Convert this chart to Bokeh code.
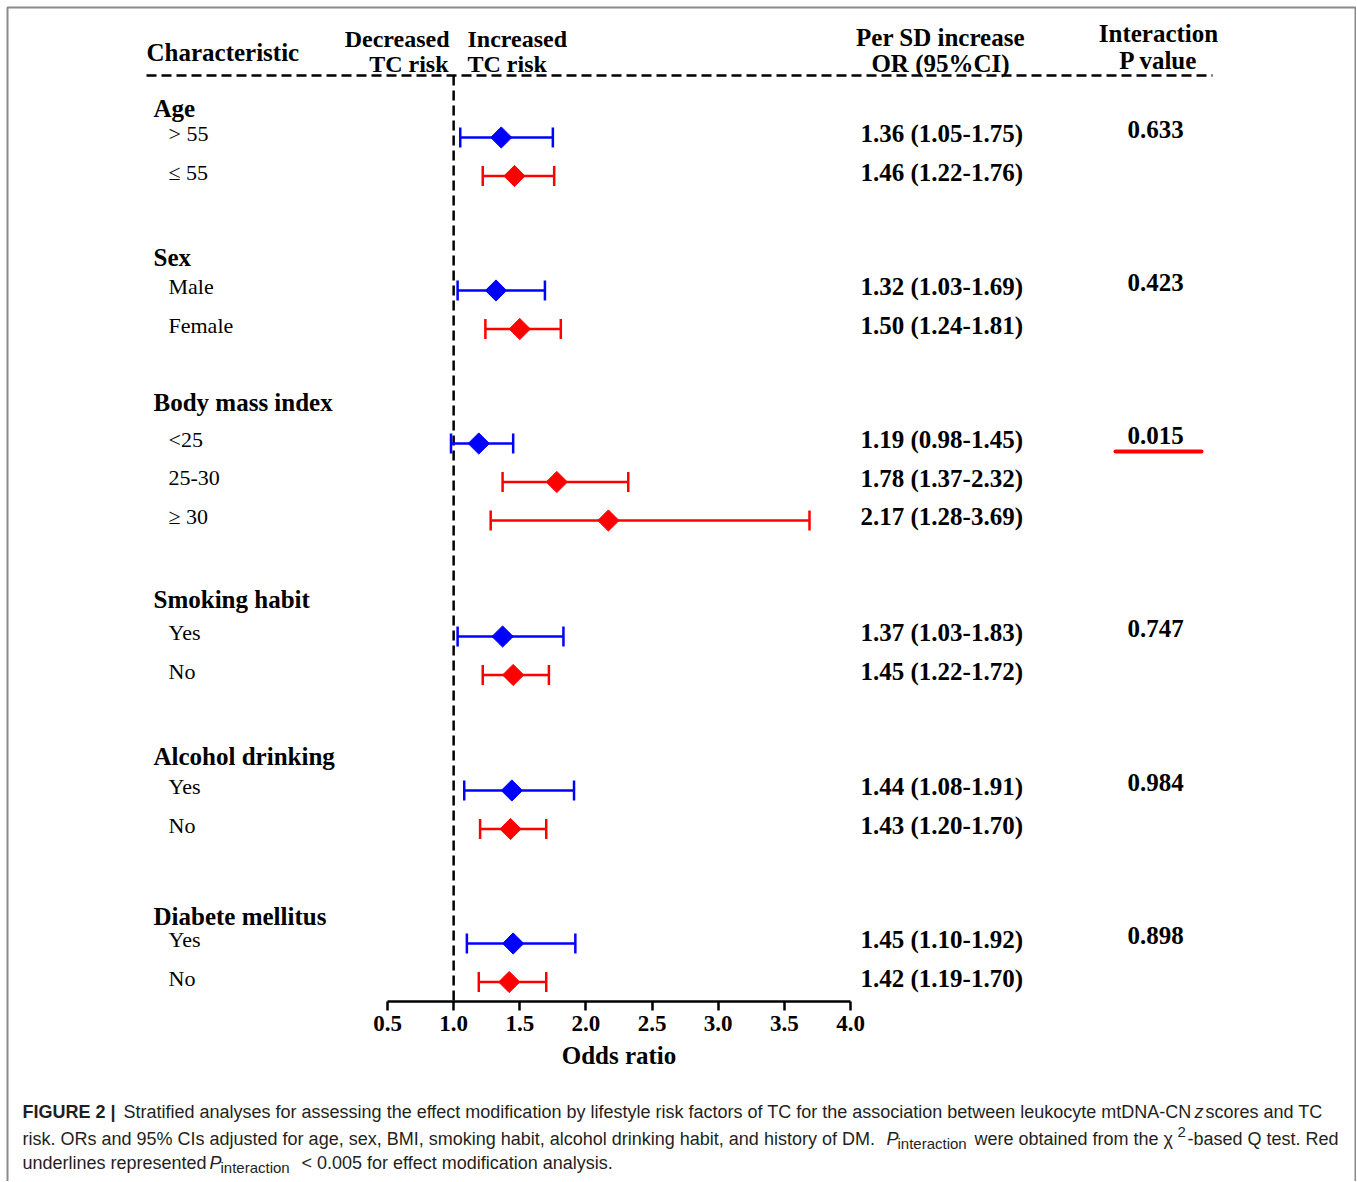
from bokeh.plotting import figure
from bokeh.models import ColumnDataSource, LinearAxis, FixedTicker, Range1d, NumeralTickFormatter
from bokeh.core.properties import value
from bokeh.embed import file_html
from bokeh.resources import INLINE
import numpy as np

# ---------------- data ----------------
groups = ["Age", "Sex", "Body mass index", "Smoking habit", "Alcohol drinking", "Diabete mellitus"]
subgroups = [["> 55", "\u2264 55"], ["Male", "Female"], ["<25", "25-30", "\u2265 30"],
             ["Yes", "No"], ["Yes", "No"], ["Yes", "No"]]
or_est = [[1.36, 1.46], [1.32, 1.50], [1.19, 1.78, 2.17], [1.37, 1.45], [1.44, 1.43], [1.45, 1.42]]
ci_low = [[1.05, 1.22], [1.03, 1.24], [0.98, 1.37, 1.28], [1.03, 1.22], [1.08, 1.20], [1.10, 1.19]]
ci_high = [[1.75, 1.76], [1.69, 1.81], [1.45, 2.32, 3.69], [1.83, 1.72], [1.91, 1.70], [1.92, 1.70]]
p_interaction = [0.633, 0.423, 0.015, 0.747, 0.984, 0.898]
x_ticks = [0.5, 1.0, 1.5, 2.0, 2.5, 3.0, 3.5, 4.0]
null_value = 1.0

# ---------------- layout ----------------
W, H = 1356, 1181
K = (850 - 387) / 3.5          # pixels per odds-ratio unit


def X(px):
    return 0.5 + (px - 387) / K


header_y = [108, 257, 402, 599, 756, 916]
first_row_y = [137, 290, 443, 636, 790, 943]
ROW_STEP = 38.5
AXIS_Y = 1001
BLUE, RED = "#0000FF", "#FF0000"
SERIF = value("Liberation Serif")
SANS = value("Liberation Sans")

p = figure(width=W, height=H, output_backend="svg", toolbar_location=None,
           x_range=Range1d(X(0), X(W)), y_range=Range1d(H, 0),
           x_axis_location=None, y_axis_location=None, min_border=0)
p.outline_line_color = None
p.grid.visible = False
p.background_fill_color = "white"

# figure frame
p.quad(left=[X(7)], right=[X(1355)], top=[7], bottom=[H + 30], fill_color=None,
       line_color="#8a8a8a", line_width=2)

# rows
rows = dict(y=[], est=[], lo=[], hi=[], color=[], label=[], ortext=[], ty=[])
for g in range(len(groups)):
    for k, sub in enumerate(subgroups[g]):
        y = first_row_y[g] + k * ROW_STEP
        rows["y"].append(y)
        rows["ty"].append(y - 4)
        rows["est"].append(or_est[g][k])
        rows["lo"].append(ci_low[g][k])
        rows["hi"].append(ci_high[g][k])
        rows["color"].append(BLUE if k == 0 else RED)
        rows["label"].append(sub)
        rows["ortext"].append("%.2f (%.2f-%.2f)" % (or_est[g][k], ci_low[g][k], ci_high[g][k]))
src = ColumnDataSource(rows)

# header dashed line and null line
p.segment(x0=[X(146)], x1=[X(1212)], y0=[75], y1=[75], line_color="black",
          line_width=2.5, line_dash="10 5")
p.segment(x0=[null_value], x1=[null_value], y0=[75], y1=[AXIS_Y], line_color="black",
          line_width=2.5, line_dash="10 5")

# error bars
p.segment(x0="lo", x1="hi", y0="y", y1="y", line_color="color", line_width=2.5, source=src)
p.scatter(x="lo", y="y", marker="dash", angle=np.pi / 2, size=20, line_color="color",
          line_width=2.5, source=src)
p.scatter(x="hi", y="y", marker="dash", angle=np.pi / 2, size=20, line_color="color",
          line_width=2.5, source=src)
p.scatter(x="est", y="y", marker="square", angle=np.pi / 4, size=15, fill_color="color",
          line_color="color", source=src)

# row labels
p.text(x=X(168), y="ty", text="label", source=src, text_font=SERIF, text_font_size="22px",
       text_baseline="middle", text_color="black")
p.text(x=X(860), y="ty", text="ortext", source=src, text_font=SERIF, text_font_size="25px",
       text_font_style="bold", text_baseline="middle", text_color="black")

# group headers
p.text(x=[X(153)] * len(groups), y=header_y, text=groups, text_font=SERIF,
       text_font_size="25px", text_font_style="bold", text_baseline="middle", text_color="black")

# P interaction
py = [y - 8 for y in first_row_y]
p.text(x=[X(1155)] * len(groups), y=py, text=["%.3f" % v for v in p_interaction],
       text_font=SERIF, text_font_size="25px", text_font_style="bold", text_align="center",
       text_baseline="middle", text_color="black")
sig_y = [y + 16 for y, v in zip(py, p_interaction) if v < 0.05]
p.segment(x0=[X(1115)] * len(sig_y), x1=[X(1201)] * len(sig_y), y0=sig_y, y1=sig_y,
          line_color=RED, line_width=4, line_cap="round")

# column headers
p.text(x=[X(146)], y=[52], text=["Characteristic"], text_font=SERIF, text_font_size="25px",
       text_font_style="bold", text_baseline="middle")
p.text(x=[X(449), X(448)], y=[38, 63], text=["Decreased", "TC risk"], text_font=SERIF,
       text_font_size="24px", text_font_style="bold", text_baseline="middle", text_align="right")
p.text(x=[X(467), X(467)], y=[38, 63], text=["Increased", "TC risk"], text_font=SERIF,
       text_font_size="24px", text_font_style="bold", text_baseline="middle", text_align="left")
p.text(x=[X(940), X(940)], y=[37, 63], text=["Per SD increase", "OR (95%CI)"], text_font=SERIF,
       text_font_size="25px", text_font_style="bold", text_baseline="middle", text_align="center")
p.text(x=[X(1158), X(1158)], y=[33, 60], text=["Interaction", "P value"], text_font=SERIF,
       text_font_size="25px", text_font_style="bold", text_baseline="middle", text_align="center")

# odds-ratio axis
ax = LinearAxis(fixed_location=AXIS_Y, bounds=(x_ticks[0], x_ticks[-1]),
                ticker=FixedTicker(ticks=x_ticks), formatter=NumeralTickFormatter(format="0.0"),
                axis_label="Odds ratio")
ax.major_tick_in = 0
ax.major_tick_out = 9
ax.minor_tick_in = 0
ax.minor_tick_out = 0
ax.axis_line_width = 2.5
ax.major_tick_line_width = 2.5
ax.axis_line_color = "black"
ax.major_tick_line_color = "black"
ax.major_label_text_font = "Liberation Serif"
ax.major_label_text_font_style = "bold"
ax.major_label_text_font_size = "23px"
ax.major_label_text_color = "black"
ax.major_label_standoff = 5
ax.axis_label_text_font = "Liberation Serif"
ax.axis_label_text_font_style = "bold"
ax.axis_label_text_font_size = "25px"
ax.axis_label_text_color = "black"
ax.axis_label_standoff = 8
p.add_layout(ax, "below")

# caption
CAP = "18px"
SMALL = "15px"
CC = "#231f20"
cap_pieces = [
    # (x px, y px, text, style, size)
    (22, 1111, "FIGURE 2 |", "bold", CAP),
    (123, 1111, "Stratified analyses for assessing the effect modification by lifestyle risk factors of TC for the association between leukocyte mtDNA-CN", "normal", CAP),
    (1194, 1111, "z", "italic", CAP),
    (1205, 1111, "scores and TC", "normal", CAP),
    (22, 1138, "risk. ORs and 95% CIs adjusted for age, sex, BMI, smoking habit, alcohol drinking habit, and history of DM.", "normal", CAP),
    (886, 1138, "P", "italic", CAP),
    (897, 1143, "interaction", "normal", SMALL),
    (974, 1138, "were obtained from the \u03c7", "normal", CAP),
    (1177, 1131, "2", "normal", SMALL),
    (1187, 1138, "-based Q test. Red", "normal", CAP),
    (22, 1162, "underlines represented", "normal", CAP),
    (209, 1162, "P", "italic", CAP),
    (220, 1167, "interaction", "normal", SMALL),
    (301, 1162, "< 0.005 for effect modification analysis.", "normal", CAP),
]
for cx, cy, ct, cs, cz in cap_pieces:
    p.text(x=[X(cx)], y=[cy], text=[ct], text_font=SANS, text_font_size=cz,
           text_font_style=cs, text_baseline="middle", text_align="left", text_color=CC)

open("out.html", "w").write(file_html(p, INLINE))
